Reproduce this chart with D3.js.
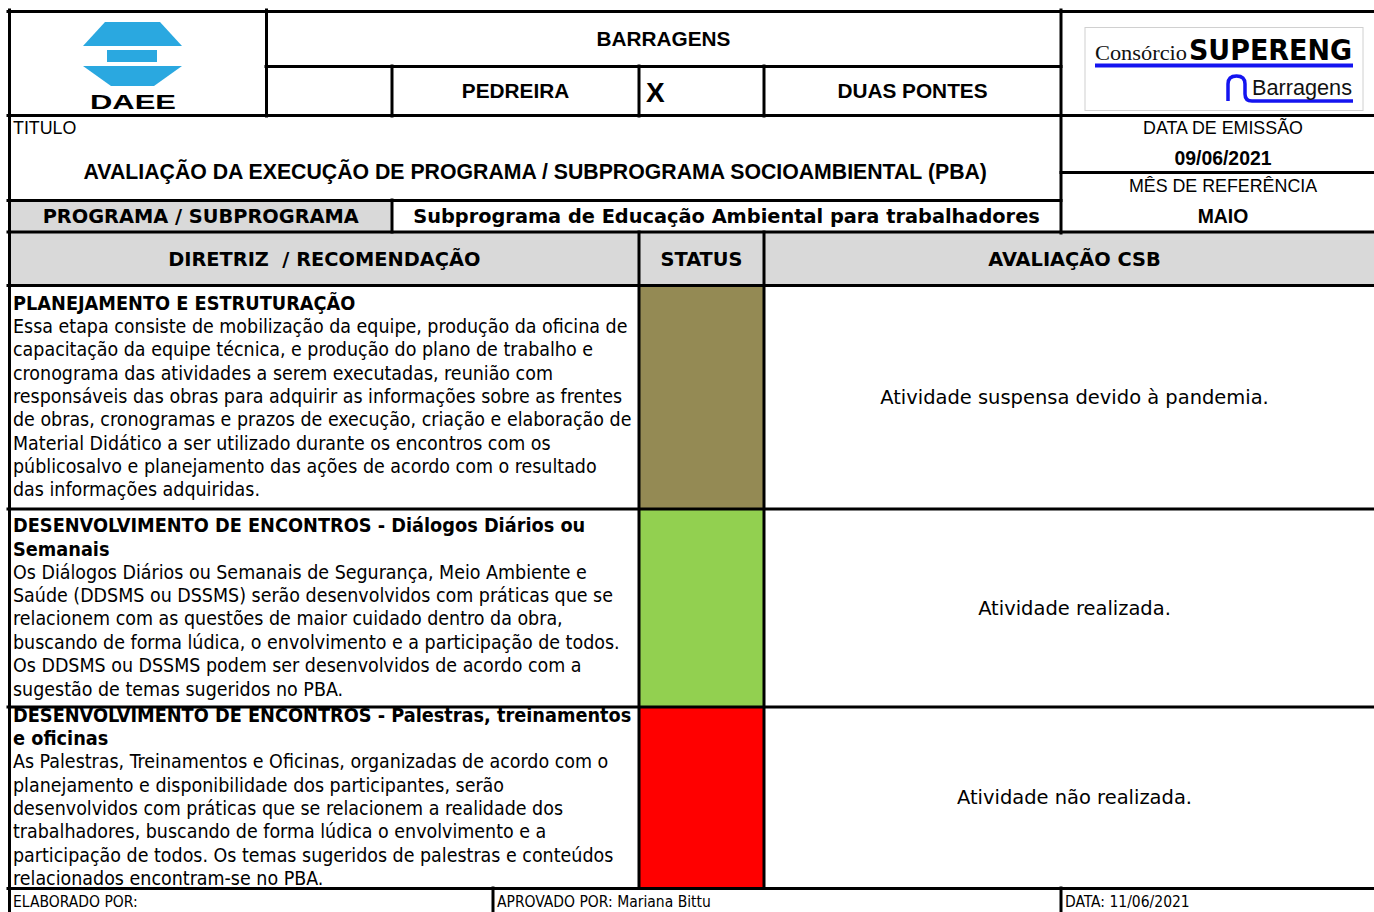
<!DOCTYPE html>
<html><head><meta charset="utf-8">
<script src="https://cdn.jsdelivr.net/npm/d3@7/dist/d3.min.js"></script>
<style>body{margin:0;background:#fff;overflow:hidden}svg text{white-space:pre}</style>
</head><body><svg id="c" width="1374" height="912"></svg>
<script>
// ---------- data ----------
const projectTitle = "BARRAGENS";
const siteLabels = ["PEDREIRA", "X", "DUAS PONTES"];
const titleLabel = "TITULO";
const docTitle = "AVALIAÇÃO DA EXECUÇÃO DE PROGRAMA / SUBPROGRAMA SOCIOAMBIENTAL (PBA)";
const infoLabels = ["DATA DE EMISSÃO", "MÊS DE REFERÊNCIA"];
const infoValues = ["09/06/2021", "MAIO"];
const programLabel = "PROGRAMA / SUBPROGRAMA";
const programName = "Subprograma de Educação Ambiental para trabalhadores";
const columnHeaders = ["DIRETRIZ  / RECOMENDAÇÃO", "STATUS", "AVALIAÇÃO CSB"];
const itemTitles = [
  ["PLANEJAMENTO E ESTRUTURAÇÃO"],
  ["DESENVOLVIMENTO DE ENCONTROS - Diálogos Diários ou", "Semanais"],
  ["DESENVOLVIMENTO DE ENCONTROS - Palestras, treinamentos", "e oficinas"]
];
const itemDescriptions = [
  ["Essa etapa consiste de mobilização da equipe, produção da oficina de",
   "capacitação da equipe técnica, e produção do plano de trabalho e",
   "cronograma das atividades a serem executadas, reunião com",
   "responsáveis das obras para adquirir as informações sobre as frentes",
   "de obras, cronogramas e prazos de execução, criação e elaboração de",
   "Material Didático a ser utilizado durante os encontros com os",
   "públicosalvo e planejamento das ações de acordo com o resultado",
   "das informações adquiridas."],
  ["Os Diálogos Diários ou Semanais de Segurança, Meio Ambiente e",
   "Saúde (DDSMS ou DSSMS) serão desenvolvidos com práticas que se",
   "relacionem com as questões de maior cuidado dentro da obra,",
   "buscando de forma lúdica, o envolvimento e a participação de todos.",
   "Os DDSMS ou DSSMS podem ser desenvolvidos de acordo com a",
   "sugestão de temas sugeridos no PBA."],
  ["As Palestras, Treinamentos e Oficinas, organizadas de acordo com o",
   "planejamento e disponibilidade dos participantes, serão",
   "desenvolvidos com práticas que se relacionem a realidade dos",
   "trabalhadores, buscando de forma lúdica o envolvimento e a",
   "participação de todos. Os temas sugeridos de palestras e conteúdos",
   "relacionados encontram-se no PBA."]
];
const itemStatus = ["suspensa", "realizada", "não realizada"];
const statusDomain = ["suspensa", "realizada", "não realizada"];
const statusColors = ["#948a54", "#92d050", "#ff0000"];
const evaluations = [
  "Atividade suspensa devido à pandemia.",
  "Atividade realizada.",
  "Atividade não realizada."
];
const footerLabels = ["ELABORADO POR:", "APROVADO POR: Mariana Bittu", "DATA: 11/06/2021"];

// ---------- layout ----------
const W = 1374, H = 912;
const F_ARIAL = "'Liberation Sans', Arial, Helvetica, sans-serif";
const F_SERIF = "'Liberation Serif', 'Times New Roman', serif";
const F_VERD = "'DejaVu Sans', Verdana, sans-serif";
const F_TAH = "'DejaVu Sans Condensed', 'DejaVu Sans', sans-serif";
const GRAY = "#d9d9d9";
const X0 = 9.5, XR = 1385;                 // table left/right edge
const colBody = [X0, 639, 764, XR];        // body columns
const rowEdges = [285.5, 509, 707, 888];   // body rows
const LH = 23.35;

const svg = d3.select("#c");
svg.append("rect").attr("width", W).attr("height", H).attr("fill", "#fff");

const color = d3.scaleOrdinal().domain(statusDomain).range(statusColors);
const xCol = d3.scaleOrdinal().domain(d3.range(3)).range(colBody.slice(0, 3));

// measurement helper
const meas = svg.append("text").attr("x", -2000).attr("y", -2000);
function fitSize(str, fam, weight, target) {
  meas.attr("font-family", fam).attr("font-weight", weight).attr("font-size", 100).text(str);
  return 100 * target / meas.node().getComputedTextLength();
}
const sArialB = fitSize(projectTitle, F_ARIAL, "bold", 134);
const sTitle = fitSize(docTitle, F_ARIAL, "bold", 904);
const sArial = fitSize(infoLabels[0], F_ARIAL, "normal", 160);
const sInfoB = fitSize(infoValues[0], F_ARIAL, "bold", 97);
const sHead = fitSize(programName, F_VERD, "bold", 627);
const sBody = fitSize(itemDescriptions[0][0], F_TAH, "normal", 615);
const sBodyB = fitSize(itemTitles[2][0], F_TAH, "bold", 619);
const sEval = fitSize(evaluations[0], F_VERD, "normal", 389);
const sFoot = fitSize(footerLabels[1], F_TAH, "normal", 214);
meas.remove();

function txt(g, x, y, s, fam, size, weight, anchor, fill) {
  return g.append("text").attr("x", x).attr("y", y).attr("dy", "0.35em")
    .attr("font-family", fam).attr("font-size", size).attr("font-weight", weight || "normal")
    .attr("text-anchor", anchor || "start").attr("fill", fill || "#000").text(s);
}

// ---------- fills ----------
svg.append("rect").attr("x", X0).attr("y", 201).attr("width", 392 - X0).attr("height", 31).attr("fill", GRAY);
svg.append("rect").attr("x", X0).attr("y", 232).attr("width", XR - X0).attr("height", 53).attr("fill", GRAY);

// status cells
svg.append("g").selectAll("rect").data(itemStatus).join("rect")
  .attr("x", colBody[1]).attr("width", colBody[2] - colBody[1])
  .attr("y", (d, i) => rowEdges[i]).attr("height", (d, i) => rowEdges[i + 1] - rowEdges[i])
  .attr("fill", d => color(d));

// ---------- header text ----------
const gh = svg.append("g");
txt(gh, (266 + 1061) / 2, 39, projectTitle, F_ARIAL, sArialB, "bold", "middle");
txt(gh, (392 + 639) / 2, 91, siteLabels[0], F_ARIAL, sArialB, "bold", "middle");
txt(gh, 646, 92, siteLabels[1], F_ARIAL, 28, "bold", "start");
txt(gh, (764 + 1061) / 2, 91, siteLabels[2], F_ARIAL, sArialB, "bold", "middle");
txt(gh, 13, 128, titleLabel, F_ARIAL, sArial, "normal", "start");
txt(gh, (X0 + 1061) / 2, 172, docTitle, F_ARIAL, sTitle, "bold", "middle");
const cR = (1061 + XR) / 2;
txt(gh, cR, 128, infoLabels[0], F_ARIAL, sArial, "normal", "middle");
txt(gh, cR, 158, infoValues[0], F_ARIAL, sInfoB, "bold", "middle");
txt(gh, cR, 186, infoLabels[1], F_ARIAL, sArial, "normal", "middle");
txt(gh, cR, 216, infoValues[1], F_ARIAL, sInfoB, "bold", "middle");
txt(gh, (X0 + 392) / 2, 216, programLabel, F_VERD, sHead, "bold", "middle");
txt(gh, (392 + 1061) / 2, 216, programName, F_VERD, sHead, "bold", "middle");
columnHeaders.forEach((s, i) => {
  txt(gh, (colBody[i] + colBody[i + 1]) / 2, 259, s, F_VERD, sHead, "bold", "middle");
});

// ---------- body rows ----------
const gb = svg.append("g");
itemTitles.forEach((titles, i) => {
  const top = rowEdges[i] + 1.5, bot = rowEdges[i + 1] - 1.5;
  const lines = titles.map(t => ({ t, b: true })).concat(itemDescriptions[i].map(t => ({ t, b: false })));
  const first = top + (bot - top - lines.length * LH) / 2 + LH / 2 - 1;
  lines.forEach((l, j) => {
    txt(gb, xCol(0) + 3.5, first + j * LH, l.t, F_TAH, l.b ? sBodyB : sBody, l.b ? "bold" : "normal", "start");
  });
  txt(gb, (colBody[2] + colBody[3]) / 2, (top + bot) / 2, evaluations[i], F_VERD, sEval, "normal", "middle");
});

// footer
const footX = [13, 497, 1065];
footerLabels.forEach((s, i) => txt(gb, footX[i], 901.5, s, F_TAH, sFoot, "normal", "start"));

// ---------- logos ----------
const gl = svg.append("g");
const blue = "#2aa8e0";
gl.append("polygon").attr("points", "105,22 160,22 182,46 83,46").attr("fill", blue);
gl.append("rect").attr("x", 107).attr("y", 50).attr("width", 50).attr("height", 12).attr("fill", blue);
gl.append("polygon").attr("points", "83,66 182,66 154,86 111,86").attr("fill", blue);
gl.append("text").attr("x", 90).attr("y", 109).attr("font-family", F_ARIAL).attr("font-weight", 900)
  .attr("font-size", 21).attr("textLength", 86).attr("lengthAdjust", "spacingAndGlyphs").text("DAEE");

gl.append("rect").attr("x", 1085).attr("y", 27.5).attr("width", 278).attr("height", 83)
  .attr("fill", "#fff").attr("stroke", "#d0d0d0").attr("stroke-width", 1);
gl.append("text").attr("x", 1095).attr("y", 60).attr("font-family", F_SERIF).attr("font-size", 22)
  .attr("textLength", 92).attr("lengthAdjust", "spacingAndGlyphs").attr("fill", "#111").text("Consórcio");
gl.append("text").attr("x", 1189).attr("y", 60).attr("font-family", F_VERD).attr("font-weight", 900)
  .attr("font-size", 29).attr("textLength", 163).attr("lengthAdjust", "spacingAndGlyphs").text("SUPERENG");
const dblue = "#1414f0";
gl.append("rect").attr("x", 1095).attr("y", 63.5).attr("width", 258).attr("height", 4).attr("fill", dblue);
gl.append("path").attr("d", "M1228,101 L1228,84 Q1228,76 1236.5,76 Q1245,76 1245,84 L1245,94 Q1245,101 1252,101 L1353,101")
  .attr("fill", "none").attr("stroke", dblue).attr("stroke-width", 3.5);
gl.append("text").attr("x", 1252).attr("y", 95).attr("font-family", F_ARIAL).attr("font-size", 21.5)
  .attr("textLength", 100).attr("lengthAdjust", "spacingAndGlyphs").attr("fill", "#111").text("Barragens");

// ---------- grid lines ----------
const hLines = [
  [8, 11.5, W, 11.5], [266, 66.5, 1061, 66.5], [8, 115.5, W, 115.5], [1061, 172.5, W, 172.5],
  [8, 200.5, 1061, 200.5], [8, 232, W, 232], [8, 285.5, W, 285.5],
  [8, 509, W, 509], [8, 707, W, 707], [8, 888.5, W, 888.5]
];
const vLines = [
  [9.5, 10, 9.5, H], [266.5, 10, 266.5, 116], [392, 66, 392, 116], [639, 66, 639, 116],
  [764, 66, 764, 116], [1061, 10, 1061, 233], [392, 200, 392, 232],
  [639, 232, 639, 888], [764, 232, 764, 888], [493, 888, 493, H], [1061, 888, 1061, H]
];
svg.append("g").selectAll("line").data(hLines.concat(vLines)).join("line")
  .attr("x1", d => d[0]).attr("y1", d => d[1]).attr("x2", d => d[2]).attr("y2", d => d[3])
  .attr("stroke", "#000").attr("stroke-width", 3).attr("stroke-linecap", "square");
</script></body></html>
